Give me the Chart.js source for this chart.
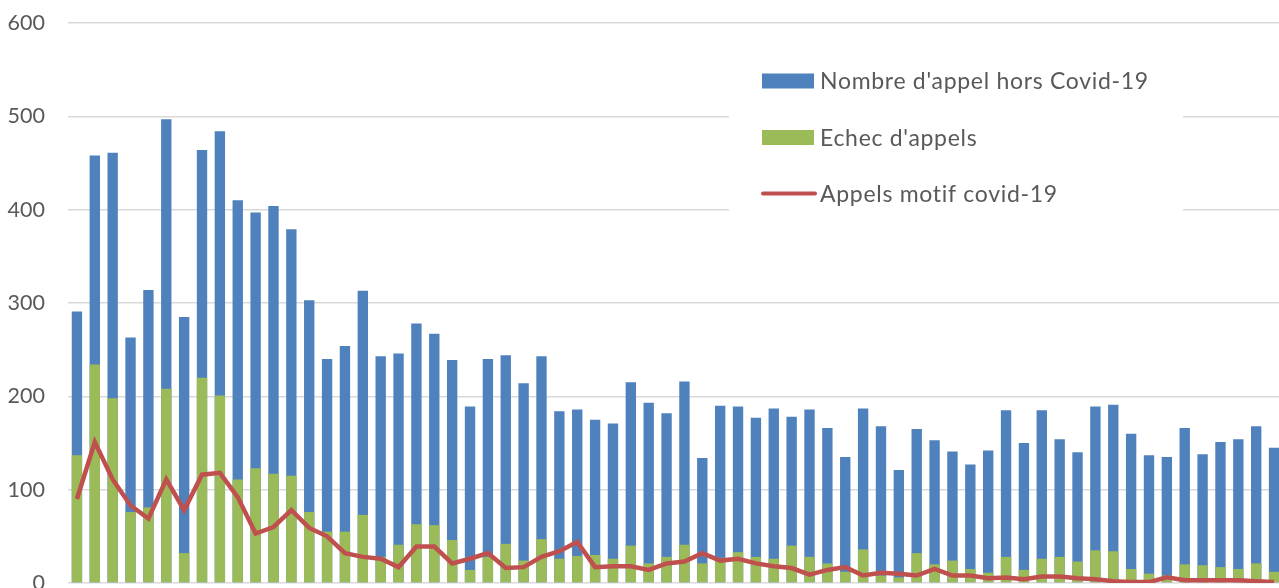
<!DOCTYPE html>
<html>
<head>
<meta charset="utf-8">
<script src="https://cdn.jsdelivr.net/npm/chart.js@4"></script>
<style>
  html, body { margin: 0; padding: 0; background: #fff; overflow: hidden; }
  #wrap { width: 1283px; height: 620px; }
</style>
</head>
<body>
<div id="wrap"><canvas id="myChart" width="1283" height="620"></canvas></div>
<script>
// jours (libellés de l'axe x, coupés sur l'image)
var categories = ['1','2','3','4','5','6','7','8','9','10','11','12','13','14','15','16','17',
    '18','19','20','21','22','23','24','25','26','27','28','29','30','31','32','33','34',
    '35','36','37','38','39','40','41','42','43','44','45','46','47','48','49','50','51',
    '52','53','54','55','56','57','58','59','60','61','62','63','64','65','66','67','68'];

var appelsHorsCovid = [291, 458, 461, 263, 314, 497, 285, 464, 484, 410, 397, 404, 379, 303, 240, 254, 313,
    243, 246, 278, 267, 239, 189, 240, 244, 214, 243, 184, 186, 175, 171, 215, 193, 182,
    216, 134, 190, 189, 177, 187, 178, 186, 166, 135, 187, 168, 121, 165, 153, 141, 127,
    142, 185, 150, 185, 154, 140, 189, 191, 160, 137, 135, 166, 138, 151, 154, 168, 145];

var echecAppels = [137, 234, 198, 76, 81, 208, 32, 220, 201, 111, 123, 117, 115, 76, 55, 55, 73,
    28, 41, 63, 62, 46, 14, 28, 42, 24, 47, 26, 29, 30, 26, 40, 21, 28,
    41, 21, 27, 33, 28, 26, 40, 28, 21, 12, 36, 8, 6, 32, 20, 24, 15,
    11, 28, 14, 26, 28, 23, 35, 34, 15, 10, 8, 20, 19, 17, 15, 21, 12];

var appelsCovid = [90, 151, 111, 83, 69, 111, 78, 116, 118, 92, 53, 60, 78, 59, 50, 32, 28,
    26, 17, 39, 39, 21, 26, 32, 16, 17, 28, 34, 44, 17, 18, 18, 14, 21,
    23, 32, 24, 26, 21, 18, 16, 9, 14, 17, 8, 11, 10, 8, 15, 8, 8,
    5, 6, 4, 7, 7, 5, 4, 2, 1, 1, 6, 3, 3, 3, 3, 2, 1];

var yTicks = [0, 100, 200, 300, 400, 500, 600];

var BLEU = '#4F81BD';
var VERT = '#9BBB59';
var ROUGE = '#C0504D';
var TEXTE = '#595959';

Chart.defaults.font.family = 'Lato';
Chart.defaults.color = TEXTE;

// légende dessinée dans un cadre blanc au-dessus de la grille
var legendeBoite = {
    id: 'legendeBoite',
    afterDatasetsDraw: function(chart) {
        var c = chart.ctx;
        c.save();
        c.fillStyle = '#fff';
        c.fillRect(729, 30, 454, 200);
        c.font = '23px Lato';
        c.letterSpacing = '0.7px';
        c.textBaseline = 'middle';
        c.textAlign = 'left';
        var rows = [
            { txt: chart.data.datasets[0].label, col: BLEU, type: 'bar', y: 81 },
            { txt: chart.data.datasets[1].label, col: VERT, type: 'bar', y: 137.5 },
            { txt: chart.data.datasets[2].label, col: ROUGE, type: 'line', y: 193.5 }
        ];
        rows.forEach(function(r) {
            if (r.type === 'bar') {
                c.fillStyle = r.col;
                c.fillRect(762, r.y - 7.5, 52, 15);
            } else {
                c.strokeStyle = r.col;
                c.lineWidth = 4;
                c.lineCap = 'round';
                c.beginPath();
                c.moveTo(763, r.y);
                c.lineTo(815, r.y);
                c.stroke();
            }
            c.fillStyle = TEXTE;
            c.fillText(r.txt, 820, r.y + 1);
        });
        c.restore();
    }
};

var ctx = document.getElementById('myChart').getContext('2d');
var myChart = new Chart(ctx, {
    type: 'bar',
    data: {
        labels: categories,
        datasets: [{
            label: "Nombre d'appel hors Covid-19",
            data: appelsHorsCovid,
            backgroundColor: BLEU,
            grouped: false,
            order: 3,
            barPercentage: 0.58,
            categoryPercentage: 1
        }, {
            label: "Echec d'appels",
            data: echecAppels,
            backgroundColor: VERT,
            grouped: false,
            order: 2,
            barPercentage: 0.58,
            categoryPercentage: 1
        }, {
            type: 'line',
            label: 'Appels motif covid-19',
            data: appelsCovid,
            borderColor: ROUGE,
            backgroundColor: ROUGE,
            borderWidth: 4.5,
            pointRadius: 0,
            tension: 0,
            order: 1
        }]
    },
    options: {
        responsive: false,
        animation: false,
        devicePixelRatio: 1,
        layout: { padding: { top: 23, bottom: 37, left: 0, right: 0 } },
        plugins: {
            legend: { display: false },
            tooltip: { enabled: false }
        },
        scales: {
            x: { display: false },
            y: {
                min: 0,
                max: 600,
                afterFit: function(scale) {
                    scale.width = 68;
                    // pas de marge auto en haut / bas, la mise en page la fixe
                    scale.paddingTop = 0;
                    scale.paddingBottom = 0;
                },
                afterBuildTicks: function(scale) {
                    scale.ticks = yTicks.map(function(v) { return { value: v }; });
                },
                border: { display: false },
                grid: { color: '#d9d9d9', lineWidth: 1.5, drawTicks: false },
                ticks: { padding: 23, font: { size: 21.5 }, color: TEXTE }
            }
        }
    },
    plugins: [legendeBoite]
});
</script>
</body>
</html>
